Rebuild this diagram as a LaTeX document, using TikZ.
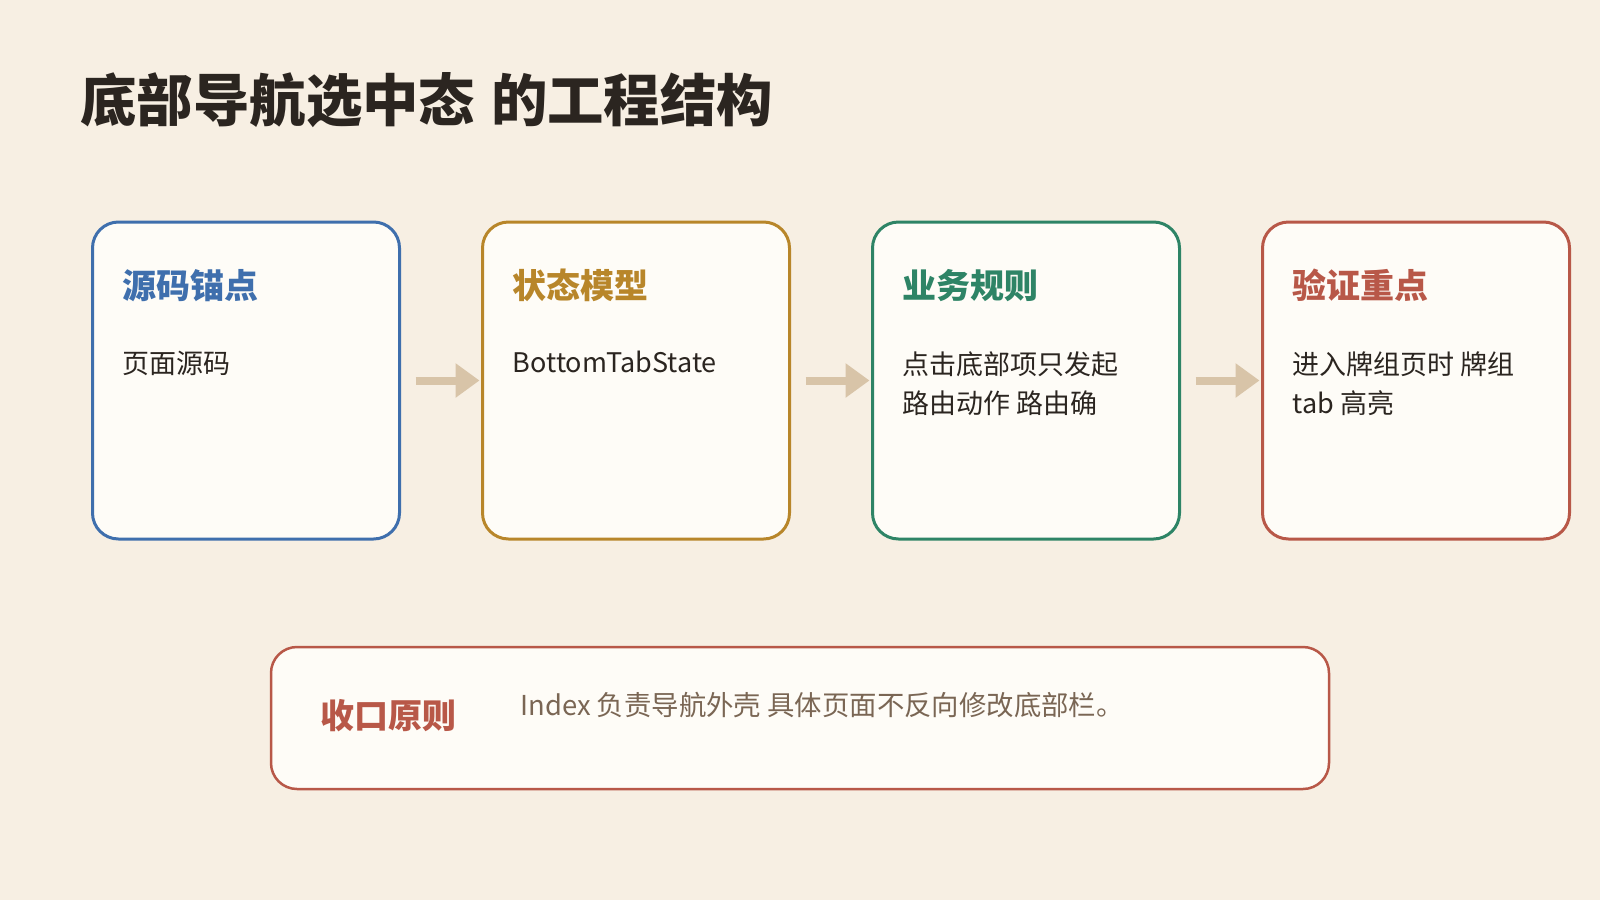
\documentclass[tikz,border=0pt]{standalone}
\usepackage{fontspec}
\setmainfont{Noto Sans CJK SC}
\usetikzlibrary{positioning,arrows.meta}

\definecolor{bgcol}{HTML}{F7EFE3}
\definecolor{cardfill}{HTML}{FEFCF7}
\definecolor{inkdark}{HTML}{2B2520}
\definecolor{inkmuted}{HTML}{7A6654}
\definecolor{arrowtan}{HTML}{D8C4A8}
\definecolor{srcblue}{HTML}{3F6FAD}
\definecolor{stategold}{HTML}{B8862A}
\definecolor{rulegreen}{HTML}{2E8466}
\definecolor{checkred}{HTML}{B85848}

\tikzset{
  card/.style={draw=#1, line width=1.5pt, rounded corners=13pt, fill=cardfill,
    minimum width=153.5pt, minimum height=158.5pt, inner sep=0pt, outer sep=0pt},
  cardtitle/.style={text=#1, font=\fontsize{17pt}{20pt}\selectfont\bfseries, inner sep=0pt},
  cardtext/.style={align=left, text=inkdark, font=\fontsize{13.5pt}{19.5pt}\selectfont, inner sep=0pt},
  flow/.style={-{Triangle[length=12pt,width=16.5pt]}, line width=4pt, draw=arrowtan,
    shorten <=8pt, shorten >=1.5pt},
}

\begin{document}
\begin{tikzpicture}[x=0.5pt,y=-0.5pt]
  \fill[bgcol] (0,0) rectangle (1600,900);
  \useasboundingbox (0,0) rectangle (1600,900);

  % heading
  \node[anchor=west, inner sep=0pt, text=inkdark, font=\fontsize{28.2pt}{30pt}\selectfont\bfseries]
    (heading) at (80,100) {底部导航选中态\hspace{8pt}的工程结构};

  % four cards
  \node[card=srcblue]    (src)   at (246,380.5)  {};
  \node[card=stategold]  (state) at (636,380.5)  {};
  \node[card=rulegreen]  (rule)  at (1026,380.5) {};
  \node[card=checkred]   (check) at (1416,380.5) {};

  \node[cardtitle=srcblue, below right=23.5pt and 15pt of src.north west] (srctitle) {源码锚点};
  \node[cardtext, below right=64.5pt and 15pt of src.north west] (srctext) {页面源码};

  \node[cardtitle=stategold, below right=23.5pt and 15pt of state.north west] (statetitle) {状态模型};
  \node[cardtext, below right=64.5pt and 15pt of state.north west] (statetext) {BottomTabState};

  \node[cardtitle=rulegreen, below right=23.5pt and 15pt of rule.north west] (ruletitle) {业务规则};
  \node[cardtext, below right=64.5pt and 15pt of rule.north west] (ruletext)
    {点击底部项只发起\\路由动作 路由确};

  \node[cardtitle=checkred, below right=23.5pt and 15pt of check.north west] (checktitle) {验证重点};
  \node[cardtext, below right=64.5pt and 15pt of check.north west] (checktext)
    {进入牌组页时 牌组\\tab 高亮};

  \draw[flow] (src.east) -- (state.west);
  \draw[flow] (state.east) -- (rule.west);
  \draw[flow] (rule.east) -- (check.west);

  % closing principle
  \node[draw=checkred, line width=1.25pt, rounded corners=13pt, fill=cardfill,
    minimum width=529pt, minimum height=71pt, inner sep=0pt, outer sep=0pt]
    (principle) at (800,718) {};
  \node[cardtitle=checkred, below right=26pt and 24.5pt of principle.north west] (principletitle) {收口原则};
  \node[cardtext, text=inkmuted, font=\fontsize{13.7pt}{19.5pt}\selectfont,
    below right=22.5pt and 124.5pt of principle.north west] (principletext)
    {Index 负责导航外壳 具体页面不反向修改底部栏。};
\end{tikzpicture}
\end{document}
